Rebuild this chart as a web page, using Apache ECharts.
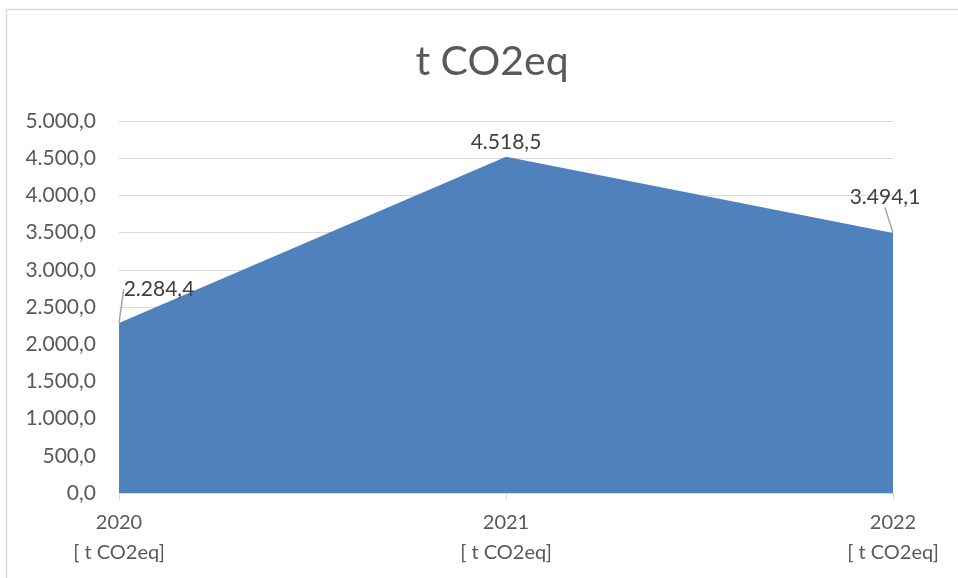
<!DOCTYPE html>
<html>
<head>
<meta charset="utf-8">
<script src="https://cdn.jsdelivr.net/npm/echarts@6/dist/echarts.min.js"></script>
<style>
  html, body { margin: 0; padding: 0; background: #fff; }
  #chart { width: 958px; height: 578px; }
</style>
</head>
<body>
<div id="chart"></div>
<script>
// Annual emissions in t CO2eq
const years = ['2020', '2021', '2022'];
const unitLabel = '[ t CO2eq]';
const emissions = [2284.4, 4518.5, 3494.1];
const yTicks = [0, 500, 1000, 1500, 2000, 2500, 3000, 3500, 4000, 4500, 5000];

// German number format: 4.518,5
function fmt(v) {
  const parts = v.toFixed(1).split('.');
  return parts[0].replace(/\B(?=(\d{3})+(?!\d))/g, '.') + ',' + parts[1];
}

// Where each data label sits relative to its point
const labelShift = [
  { dx: 40, dy: -23, line: true },
  { dx: 0, dy: -4, line: false },
  { dx: -8, dy: -25, line: true }
];

const FONT = 'Lato, "Open Sans", sans-serif';
const chart = echarts.init(document.getElementById('chart'), null, { renderer: 'canvas' });

chart.setOption({
  backgroundColor: '#fff',
  animation: false,
  title: {
    text: 't CO2eq',
    left: 487,
    top: 36,
    textAlign: 'center',
    textStyle: { fontFamily: FONT, fontSize: 41, fontWeight: 'normal', color: '#595959' }
  },
  graphic: [{
    type: 'rect',
    shape: { x: 6.5, y: 9.5, width: 1000, height: 1000 },
    style: { fill: 'none', stroke: '#d9d9d9', lineWidth: 1.5 },
    silent: true
  }],
  grid: { left: 119, right: 65, top: 121, bottom: 85 },
  xAxis: {
    type: 'category',
    data: years,
    boundaryGap: false,
    axisLine: { lineStyle: { color: '#d9d9d9', width: 1 } },
    axisTick: { show: true, length: 7, lineStyle: { color: '#d9d9d9' } },
    axisLabel: {
      formatter: (v) => v + '\n' + unitLabel,
      fontFamily: FONT,
      fontSize: 20,
      lineHeight: 30,
      color: '#595959',
      margin: 15,
      interval: 0
    },
    splitLine: { show: false }
  },
  yAxis: {
    type: 'value',
    min: yTicks[0],
    max: yTicks[yTicks.length - 1],
    interval: 500,
    axisLine: { show: false },
    axisTick: { show: false },
    axisLabel: {
      formatter: (v) => fmt(v),
      fontFamily: FONT,
      fontSize: 21,
      color: '#595959',
      margin: 23
    },
    splitLine: { lineStyle: { color: '#d9d9d9', width: 1 } }
  },
  series: [{
    type: 'line',
    data: emissions.map((v, i) => ({
      value: v,
      labelLine: { show: labelShift[i].line }
    })),
    showSymbol: true,
    symbol: 'circle',
    symbolSize: 1,
    itemStyle: { color: 'rgba(0,0,0,0)' },
    lineStyle: { width: 0 },
    areaStyle: { color: '#4f81bd', opacity: 1 },
    label: {
      show: true,
      position: 'top',
      distance: 0,
      formatter: (p) => fmt(p.value),
      fontFamily: FONT,
      fontSize: 21,
      color: '#404040'
    },
    labelLine: {
      show: true,
      lineStyle: { color: '#a6a6a6', width: 1.5 }
    },
    labelLayout: (p) => ({ dx: labelShift[p.dataIndex].dx, dy: labelShift[p.dataIndex].dy })
  }]
});
</script>
</body>
</html>
